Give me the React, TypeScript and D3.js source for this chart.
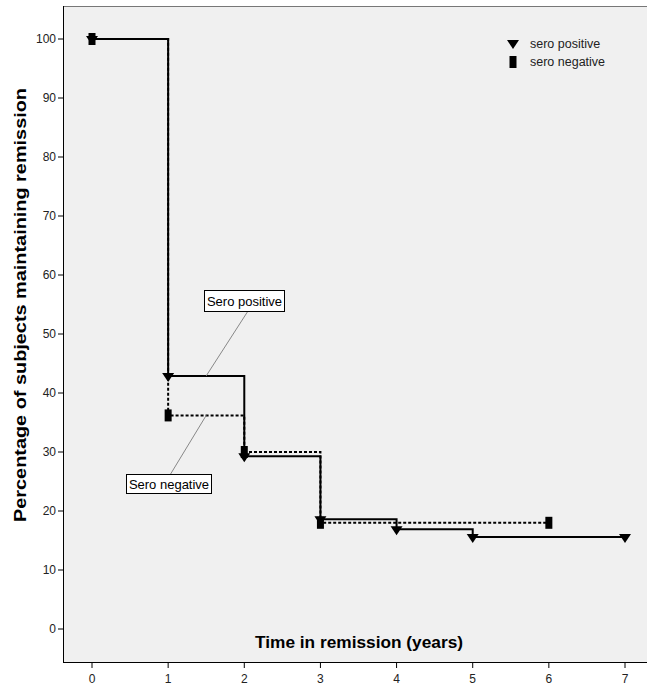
import React from "react";
import * as d3 from "d3";

// Kaplan-Meier style remission curves
const yearTicks = [0, 1, 2, 3, 4, 5, 6, 7];
const pctTicks = [0, 10, 20, 30, 40, 50, 60, 70, 80, 90, 100];

const posTimes = [0, 1, 2, 3, 4, 5, 7];
const posValues = [100, 42.9, 29.3, 18.6, 16.9, 15.6, 15.6];

const negTimes = [0, 1, 2, 3, 6];
const negValues = [100, 36.2, 30.0, 18.0, 18.0];

const seriesNames = ["sero positive", "sero negative"];
const calloutNames = ["Sero positive", "Sero negative"];

const W = 647;
const H = 687;
const plot = { left: 63, top: 6, right: 647, bottom: 662 };

const FONT = "'Liberation Sans', Arial, sans-serif";

const Triangle = ({ x, y }: { x: number; y: number }) => (
  <path d={`M${x - 6},${y - 3} L${x + 6},${y - 3} L${x},${y + 6} Z`} fill="#000" />
);

const Block = ({ x, y }: { x: number; y: number }) => (
  <rect x={x - 3.5} y={y - 6} width={7} height={12} fill="#000" />
);

export default function App() {
  const x = d3.scaleLinear().domain([0, 7]).range([92, 625]);
  const y = d3.scaleLinear().domain([0, 100]).range([629, 39]);

  const pos = posTimes.map((t, i) => [t, posValues[i]] as [number, number]);
  const neg = negTimes.map((t, i) => [t, negValues[i]] as [number, number]);

  const step = d3
    .line<[number, number]>()
    .x((d) => x(d[0]))
    .y((d) => y(d[1]))
    .curve(d3.curveStepAfter);

  // callout anchors sit on the horizontal segments after year 1
  const posAnchor = { x: x(1.5), y: y(posValues[1]) };
  const negAnchor = { x: x(1.5), y: y(negValues[1]) };

  return (
    <svg
      width={W}
      height={H}
      style={{ position: "absolute", left: 0, top: 0, background: "#fff" }}
      fontFamily={FONT}
    >
      {/* plot background */}
      <rect
        x={plot.left}
        y={plot.top}
        width={plot.right - plot.left}
        height={plot.bottom - plot.top}
        fill="#f0f0f0"
      />
      <line x1={plot.left} x2={plot.right} y1={plot.top + 0.5} y2={plot.top + 0.5} stroke="#777" />

      {/* axes */}
      <line x1={plot.left + 0.5} x2={plot.left + 0.5} y1={plot.top} y2={plot.bottom} stroke="#000" />
      <line x1={plot.left} x2={plot.right} y1={plot.bottom + 0.5} y2={plot.bottom + 0.5} stroke="#000" />

      {pctTicks.map((t) => (
        <g key={"y" + t}>
          <line x1={plot.left - 5} x2={plot.left} y1={y(t)} y2={y(t)} stroke="#000" />
          <text x={plot.left - 7} y={y(t)} dy="0.35em" textAnchor="end" fontSize={12} fill="#222">
            {t}
          </text>
        </g>
      ))}
      {yearTicks.map((t) => (
        <g key={"x" + t}>
          <line x1={x(t)} x2={x(t)} y1={plot.bottom} y2={plot.bottom + 6} stroke="#000" />
          <text x={x(t)} y={plot.bottom + 21} textAnchor="middle" fontSize={12} fill="#222">
            {t}
          </text>
        </g>
      ))}

      <text
        x={359}
        y={648}
        textAnchor="middle"
        fontSize={17}
        fontWeight="bold"
        fill="#000"
        textLength={208}
        lengthAdjust="spacingAndGlyphs"
      >
        Time in remission (years)
      </text>
      <text
        transform={`translate(26,${305}) rotate(-90)`}
        textAnchor="middle"
        fontSize={17}
        fontWeight="bold"
        fill="#000"
        textLength={434}
        lengthAdjust="spacingAndGlyphs"
      >
        Percentage of subjects maintaining remission
      </text>

      {/* curves */}
      <path d={step(neg) || ""} fill="none" stroke="#000" strokeWidth={2} strokeDasharray="3,2" />
      <path d={step(pos) || ""} fill="none" stroke="#000" strokeWidth={2} />

      {neg.map((d, i) => (
        <Block key={"n" + i} x={x(d[0])} y={y(d[1])} />
      ))}
      {pos.map((d, i) => (
        <Triangle key={"p" + i} x={x(d[0])} y={y(d[1])} />
      ))}

      {/* callouts */}
      <line x1={248} y1={311} x2={posAnchor.x} y2={posAnchor.y} stroke="#888" />
      <line x1={170} y1={475} x2={negAnchor.x} y2={negAnchor.y} stroke="#888" />
      <rect x={204.5} y={290.5} width={80} height={21} fill="#fff" stroke="#000" />
      <text x={244.5} y={301} dy="0.35em" textAnchor="middle" fontSize={13} fill="#000">
        {calloutNames[0]}
      </text>
      <rect x={126.5} y={474.5} width={85} height={19} fill="#fff" stroke="#000" />
      <text x={169} y={484} dy="0.35em" textAnchor="middle" fontSize={13} fill="#000">
        {calloutNames[1]}
      </text>

      {/* legend */}
      <Triangle x={513} y={43} />
      <text x={530} y={44} dy="0.35em" fontSize={12.5} fill="#222">
        {seriesNames[0]}
      </text>
      <Block x={513} y={62} />
      <text x={530} y={62} dy="0.35em" fontSize={12.5} fill="#222">
        {seriesNames[1]}
      </text>
    </svg>
  );
}
